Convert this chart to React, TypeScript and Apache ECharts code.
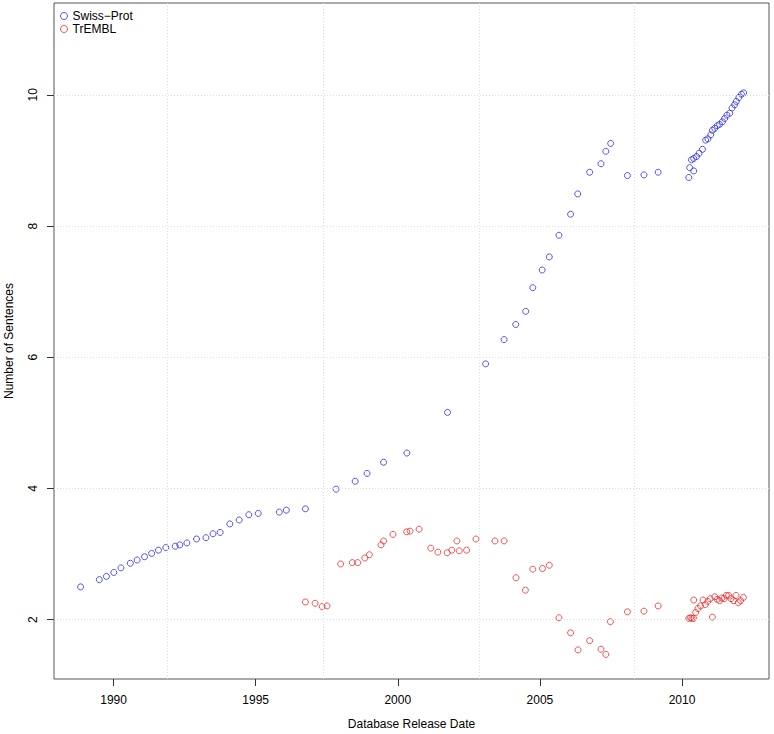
import React, { useEffect, useRef } from "react";
import * as echarts from "echarts";

// Swiss-Prot: release date (decimal year) and number of sentences
const spYears = [
  1988.84, 1989.5, 1989.75, 1990.01, 1990.26, 1990.59, 1990.83, 1991.09, 1991.34, 1991.58,
  1991.84, 1992.17, 1992.33, 1992.58, 1992.92, 1993.25, 1993.5, 1993.75, 1994.09, 1994.42,
  1994.76, 1995.09, 1995.83, 1996.08, 1996.75, 1997.83, 1998.5, 1998.92, 1999.5, 2000.32,
  2001.75, 2003.09, 2003.74, 2004.15, 2004.5, 2004.75, 2005.08, 2005.33, 2005.67, 2006.08,
  2006.33, 2006.75, 2007.15, 2007.32, 2007.49, 2008.08, 2008.66, 2009.16, 2010.24, 2010.27,
  2010.41, 2010.33, 2010.41, 2010.51, 2010.6, 2010.72, 2010.83, 2010.91, 2011.01, 2011.07,
  2011.15, 2011.24, 2011.32, 2011.42, 2011.5, 2011.58, 2011.68, 2011.76, 2011.85, 2011.91,
  2012.0, 2012.09, 2012.17,
];
const spValues = [
  2.5, 2.61, 2.66, 2.72, 2.79, 2.86, 2.91, 2.96, 3.01, 3.06,
  3.1, 3.12, 3.14, 3.17, 3.23, 3.25, 3.31, 3.33, 3.46, 3.52,
  3.6, 3.62, 3.64, 3.67, 3.69, 3.99, 4.11, 4.23, 4.4, 4.54,
  5.16, 5.9, 6.27, 6.5, 6.7, 7.06, 7.33, 7.53, 7.86, 8.18,
  8.49, 8.82, 8.95, 9.14, 9.26, 8.77, 8.78, 8.82, 8.74, 8.89,
  8.84, 9.01, 9.03, 9.06, 9.11, 9.17, 9.31, 9.33, 9.39, 9.46,
  9.49, 9.53, 9.55, 9.59, 9.64, 9.69, 9.72, 9.8, 9.85, 9.9,
  9.96, 10.01, 10.03,
];

// TrEMBL
const trYears = [
  1996.75, 1997.09, 1997.34, 1997.51, 1997.99, 1998.4, 1998.59, 1998.84, 1999.0, 1999.41,
  1999.5, 1999.83, 2000.31, 2000.43, 2000.75, 2001.16, 2001.41, 2001.74, 2001.9, 2002.08,
  2002.16, 2002.42, 2002.75, 2003.42, 2003.74, 2004.16, 2004.49, 2004.75, 2005.09, 2005.33,
  2005.67, 2006.08, 2006.34, 2006.75, 2007.15, 2007.32, 2007.48, 2008.08, 2008.66, 2009.16,
  2010.24, 2010.3, 2010.35, 2010.41, 2010.41, 2010.48, 2010.56, 2010.65, 2010.74, 2010.82,
  2010.91, 2010.99, 2011.07, 2011.15, 2011.24, 2011.32, 2011.4, 2011.48, 2011.56, 2011.64,
  2011.72, 2011.81, 2011.9, 2011.98, 2012.06, 2012.16,
];
const trValues = [
  2.27, 2.25, 2.2, 2.21, 2.85, 2.87, 2.87, 2.94, 2.99, 3.14,
  3.2, 3.3, 3.34, 3.35, 3.38, 3.09, 3.03, 3.02, 3.06, 3.2,
  3.05, 3.06, 3.23, 3.2, 3.2, 2.64, 2.45, 2.77, 2.78, 2.83,
  2.03, 1.8, 1.54, 1.68, 1.55, 1.47, 1.97, 2.12, 2.13, 2.21,
  2.02, 2.03, 2.02, 2.02, 2.3, 2.11, 2.17, 2.21, 2.3, 2.23,
  2.28, 2.32, 2.04, 2.35, 2.31, 2.29, 2.33, 2.32, 2.37, 2.37,
  2.32, 2.29, 2.37, 2.26, 2.29, 2.34,
];

const xTicks = [1990, 1995, 2000, 2005, 2010];
const yTicks = [2, 4, 6, 8, 10];
// grid lines drawn by R's grid() at day counts 8000, 10000, 12000, 14000 (as decimal years)
const xGrid = [1991.904, 1997.378, 2002.855, 2008.331];

const seriesNames = ["Swiss\u2212Prot", "TrEMBL"];
const seriesColors = ["#2a2aee", "#ee2a2a"];

export default function App() {
  const ref = useRef<HTMLDivElement>(null);
  useEffect(() => {
    document.body.style.margin = "0";
    if (!ref.current) return;
    const chart = echarts.init(ref.current, undefined, { renderer: "svg" });
    const font = "Liberation Sans, Arial, Helvetica, sans-serif";
    const gridLine = { color: "#dcdcdc", type: [1, 2] as any, width: 1 };
    const markerStyle = (c: string) => ({
      color: "rgba(255,255,255,0)",
      borderColor: c,
      borderWidth: 1,
    });
    chart.setOption({
      animation: false,
      backgroundColor: "#ffffff",
      grid: {
        left: 54,
        right: 5,
        top: 3,
        bottom: 55,
        outerBoundsMode: "none",
        containLabel: false,
        show: true,
        borderColor: "#555",
        borderWidth: 1,
        backgroundColor: "transparent",
      },
      legend: {
        orient: "vertical",
        left: 55,
        top: 5,
        itemWidth: 7,
        itemHeight: 7,
        itemGap: 1,
        icon: "circle",
        itemStyle: { borderWidth: 1 },
        textStyle: { fontFamily: font, fontSize: 12, color: "#000" },
        data: seriesNames,
      },
      xAxis: {
        type: "value",
        min: 1987.905,
        max: 2013.06,
        name: "Database Release Date",
        nameLocation: "middle",
        nameGap: 39,
        nameTextStyle: { fontFamily: font, fontSize: 12, color: "#000" },
        axisLine: { show: false },
        axisTick: {
          show: true,
          length: 7,
          lineStyle: { color: "#333" },
          customValues: xTicks,
        },
        axisLabel: {
          customValues: xTicks,
          formatter: (v: number) => String(v),
          fontFamily: font,
          fontSize: 12,
          color: "#000",
          margin: 15,
        },
        splitLine: { show: false },
      },
      yAxis: {
        type: "value",
        min: 1.096,
        max: 11.4,
        name: "Number of Sentences",
        nameLocation: "middle",
        nameGap: 39,
        nameTextStyle: { fontFamily: font, fontSize: 12, color: "#000" },
        axisLine: { show: false },
        axisTick: {
          show: true,
          length: 7,
          lineStyle: { color: "#333" },
          customValues: yTicks,
        },
        axisLabel: {
          customValues: yTicks,
          formatter: (v: number) => String(v),
          rotate: 90,
          fontFamily: font,
          fontSize: 12,
          color: "#000",
          margin: 15,
        },
        splitLine: { show: false },
      },
      series: [
        {
          name: seriesNames[0],
          type: "scatter",
          symbol: "circle",
          symbolSize: 6,
          itemStyle: markerStyle(seriesColors[0]),
          data: spYears.map((x, i) => [x, spValues[i]]),
          z: 3,
          markLine: {
            silent: true,
            symbol: "none",
            label: { show: false },
            lineStyle: gridLine,
            data: [
              ...xGrid.map((v) => ({ xAxis: v })),
              ...yTicks.map((v) => ({ yAxis: v })),
            ],
          },
        },
        {
          name: seriesNames[1],
          type: "scatter",
          symbol: "circle",
          symbolSize: 6,
          itemStyle: markerStyle(seriesColors[1]),
          data: trYears.map((x, i) => [x, trValues[i]]),
          z: 3,
        },
      ],
    });
    return () => chart.dispose();
  }, []);
  return <div ref={ref} style={{ width: 774, height: 734 }} />;
}
